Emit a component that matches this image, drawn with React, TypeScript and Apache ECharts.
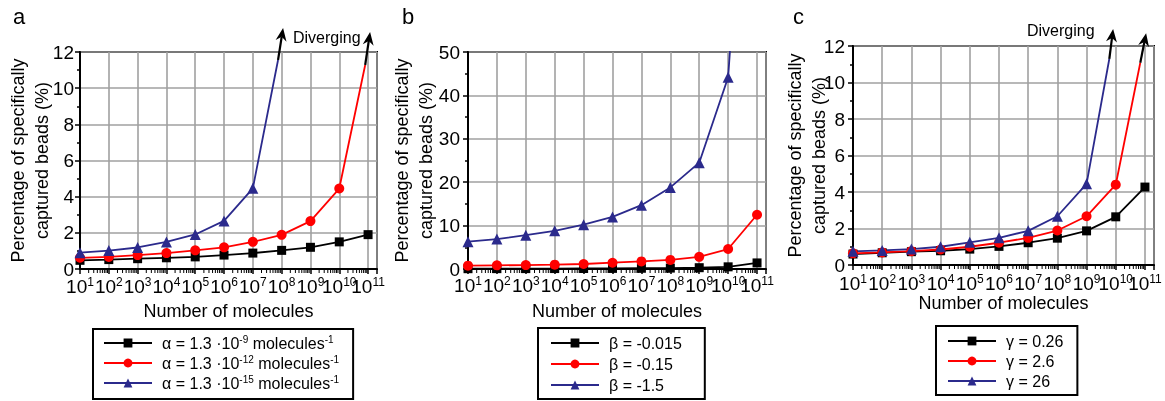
import React, { useEffect, useRef } from 'react';
import * as echarts from 'echarts';

const FONT = '"Liberation Sans", Arial, Helvetica, sans-serif';
const BLACK = '#000000';
const RED = '#ff0000';
const BLUE = '#2b2a8c';
const GRID_COLOR = '#a0a0a0';

// x = log10(number of molecules)
const EXP = [1, 2, 3, 4, 5, 6, 7, 8, 9, 10, 11];

// Panel a (alpha)
const A_BLACK = [0.48, 0.52, 0.57, 0.62, 0.67, 0.77, 0.88, 1.03, 1.2, 1.5, 1.9];
const A_RED = [0.62, 0.67, 0.77, 0.88, 1.03, 1.2, 1.5, 1.89, 2.65, 4.45];
const A_BLUE = [0.9, 1.02, 1.19, 1.5, 1.91, 2.66, 4.46];
const A_RED_TAIL = [10.9, 11.28];
const A_BLUE_TAIL = [7.875, 11.56];
const A_ARROWS = [
  [7.875, 11.56, 8.05, 13.33],
  [10.9, 11.28, 11.07, 13.1],
];

// Panel b (beta)
const B_BLACK = [0.07, 0.08, 0.09, 0.1, 0.12, 0.14, 0.17, 0.21, 0.3, 0.5, 1.4];
const B_RED = [0.76, 0.85, 0.9, 1.0, 1.15, 1.45, 1.75, 2.1, 2.8, 4.6, 12.5];
const B_BLUE = [6.3, 6.9, 7.8, 8.8, 10.2, 12.0, 14.7, 18.8, 24.5, 44.2, 140];

// Panel c (gamma)
const C_BLACK = [0.6, 0.67, 0.73, 0.78, 0.87, 1.02, 1.22, 1.47, 1.87, 2.64, 4.27];
const C_RED = [0.64, 0.69, 0.76, 0.85, 1.0, 1.22, 1.49, 1.89, 2.67, 4.4];
const C_BLUE = [0.75, 0.8, 0.87, 1.0, 1.24, 1.49, 1.87, 2.67, 4.45];
const C_RED_TAIL = [10.84, 11.08];
const C_BLUE_TAIL = [9.78, 11.3];
const C_ARROWS = [
  [9.78, 11.3, 9.91, 12.93],
  [10.84, 11.08, 11.04, 12.7],
];

const A_NAMES = ['α = 1.3 ·10-9 molecules-1', 'α = 1.3 ·10-12 molecules-1', 'α = 1.3 ·10-15 molecules-1'];
const A_LABELS = [
  'α = 1.3 ·10{s|-9} molecules{s|-1}',
  'α = 1.3 ·10{s|-12} molecules{s|-1}',
  'α = 1.3 ·10{s|-15} molecules{s|-1}',
];
const B_NAMES = ['β = -0.015', 'β = -0.15', 'β = -1.5'];
const C_NAMES = ['γ = 0.26', 'γ = 2.6', 'γ = 26'];

const Y_TITLE = 'Percentage of specifically\ncaptured beads (%)';
const X_TITLE = 'Number of molecules';
const X_MAX = 11.31;

const MINOR_X: number[] = [];
for (let n = 1; n <= 10; n++) {
  for (let k = 2; k <= 9; k++) MINOR_X.push(n + Math.log10(k));
}

function pairs(vals: number[], tail?: number[]) {
  const d: any[] = vals.map((v, i) => [EXP[i], v]);
  if (tail) d.push({ value: tail, symbol: 'none' });
  return d;
}

function xAxis(gridIndex: number, labelMargin: number, nameGap: number) {
  return {
    type: 'value',
    gridIndex,
    min: 1,
    max: X_MAX,
    interval: 1,
    name: X_TITLE,
    nameLocation: 'middle',
    nameGap,
    nameMoveOverlap: false,
    nameTextStyle: { fontSize: 18, fontFamily: FONT, color: '#000' },
    axisLine: { show: true, onZero: false, lineStyle: { color: '#000', width: 2 } },
    axisTick: { show: true, length: 5, lineStyle: { color: '#000', width: 1.5 } },
    axisLabel: {
      margin: labelMargin,
      showMinLabel: true,
      formatter: (v: number) => (Number.isInteger(v) ? `{b|10}{s|${v}}` : ''),
      rich: {
        b: { fontSize: 19, fontFamily: FONT, color: '#000', lineHeight: 20 },
        s: { fontSize: 12, fontFamily: FONT, color: '#000', verticalAlign: 'top', lineHeight: 12 },
      },
    },
    splitLine: { show: true, lineStyle: { color: GRID_COLOR, width: 1.6 } },
  };
}

function yAxis(gridIndex: number, max: number, interval: number, labelMargin: number, nameGap: number) {
  return {
    type: 'value',
    gridIndex,
    min: 0,
    max,
    interval,
    name: Y_TITLE,
    nameLocation: 'middle',
    nameGap,
    nameMoveOverlap: false,
    nameTextStyle: { fontSize: 18, lineHeight: 24, fontFamily: FONT, color: '#000', align: 'center' },
    axisLine: { show: true, onZero: false, lineStyle: { color: '#000', width: 2 } },
    axisTick: { show: true, length: 5, lineStyle: { color: '#000', width: 1.5 } },
    minorTick: { show: true, splitNumber: 2, length: 3, lineStyle: { color: '#000', width: 1.5 } },
    axisLabel: { fontSize: 19, fontFamily: FONT, color: '#000', margin: labelMargin },
    splitLine: { show: true, lineStyle: { color: GRID_COLOR, width: 1.6 } },
  };
}

function lineSeries(name: string, idx: number, data: any[], color: string, symbol: string, size: number) {
  return {
    type: 'line',
    name,
    xAxisIndex: idx,
    yAxisIndex: idx,
    data,
    symbol,
    symbolSize: size,
    clip: true,
    lineStyle: { color, width: 1.8 },
    itemStyle: { color },
    z: 3,
  };
}

function arrowSeries(idx: number, data: number[][]) {
  return {
    type: 'custom',
    xAxisIndex: idx,
    yAxisIndex: idx,
    data,
    encode: { x: [0, 2], y: [1, 3] },
    z: 5,
    silent: true,
    renderItem: (_p: any, api: any) => {
      const p1 = api.coord([api.value(0), api.value(1)]);
      const p2 = api.coord([api.value(2), api.value(3)]);
      const dx = p2[0] - p1[0];
      const dy = p2[1] - p1[1];
      const len = Math.hypot(dx, dy) || 1;
      const ux = dx / len;
      const uy = dy / len;
      const nx = -uy;
      const ny = ux;
      const H = 13;
      const W = 5.5;
      const N = 4;
      const base = [p2[0] - ux * H, p2[1] - uy * H];
      const notch = [p2[0] - ux * (H - N), p2[1] - uy * (H - N)];
      return {
        type: 'group',
        children: [
          {
            type: 'line',
            shape: { x1: p1[0], y1: p1[1], x2: notch[0], y2: notch[1] },
            style: { stroke: '#000', lineWidth: 2.2 },
          },
          {
            type: 'polygon',
            shape: {
              points: [
                [p2[0], p2[1]],
                [base[0] + nx * W, base[1] + ny * W],
                notch,
                [base[0] - nx * W, base[1] - ny * W],
              ],
            },
            style: { fill: '#000' },
          },
        ],
      };
    },
  };
}

function minorTickSeries(idx: number) {
  return {
    type: 'custom',
    xAxisIndex: idx,
    yAxisIndex: idx,
    data: MINOR_X.map((v) => [v, 0]),
    encode: { x: 0, y: 1 },
    silent: true,
    z: 4,
    renderItem: (_p: any, api: any) => {
      const p = api.coord([api.value(0), 0]);
      return {
        type: 'line',
        shape: { x1: p[0], y1: p[1] + 1, x2: p[0], y2: p[1] + 4 },
        style: { stroke: '#000', lineWidth: 1 },
      };
    },
  };
}

function legend(names: string[], labels: string[] | null, left: number, top: number, padding: number[], gap: number) {
  const map: Record<string, string> = {};
  names.forEach((n, i) => (map[n] = labels ? labels[i] : n));
  return {
    show: true,
    orient: 'vertical',
    left,
    top,
    data: names,
    padding,
    itemGap: gap,
    itemWidth: 48,
    itemHeight: 11,
    borderColor: '#000',
    borderWidth: 2,
    backgroundColor: '#fff',
    selectedMode: false,
    formatter: (n: string) => map[n],
    textStyle: {
      fontSize: 16,
      fontFamily: FONT,
      color: '#000',
      lineHeight: 18,
      padding: [0, 0, 0, 5],
      rich: {
        s: { fontSize: 10, fontFamily: FONT, color: '#000', verticalAlign: 'top', lineHeight: 12 },
      },
    },
  };
}

function buildOption() {
  return {
    animation: false,
    textStyle: { fontFamily: FONT },
    grid: [
      { left: 80, top: 52, width: 297, height: 217, show: true, borderColor: '#000', borderWidth: 2, backgroundColor: 'transparent' },
      { left: 468, top: 52, width: 298, height: 217, show: true, borderColor: '#000', borderWidth: 2, backgroundColor: 'transparent' },
      { left: 853, top: 46, width: 301, height: 219, show: true, borderColor: '#000', borderWidth: 2, backgroundColor: 'transparent' },
    ],
    xAxis: [xAxis(0, 7, 33), xAxis(1, 6, 33), xAxis(2, 8, 29)],
    yAxis: [yAxis(0, 12, 2, 6, 26), yAxis(1, 50, 10, 8, 30), yAxis(2, 12, 2, 8, 22)],
    legend: [
      legend(A_NAMES, A_LABELS, 93, 329, [5, 14, 7, 10], 2),
      legend(B_NAMES, null, 538, 328, [6, 23, 5, 12], 3),
      legend(C_NAMES, null, 936, 326, [6, 14, 5, 11], 2),
    ],
    graphic: [
      { type: 'text', left: 13, top: 5, style: { text: 'a', fontSize: 22, fontFamily: FONT, fill: '#000' } },
      { type: 'text', left: 402, top: 5, style: { text: 'b', fontSize: 22, fontFamily: FONT, fill: '#000' } },
      { type: 'text', left: 793, top: 5, style: { text: 'c', fontSize: 22, fontFamily: FONT, fill: '#000' } },
      { type: 'text', left: 293, top: 29, style: { text: 'Diverging', fontSize: 16, fontFamily: FONT, fill: '#000' } },
      { type: 'text', left: 1027, top: 22, style: { text: 'Diverging', fontSize: 16, fontFamily: FONT, fill: '#000' } },
    ],
    series: [
      lineSeries(A_NAMES[0], 0, pairs(A_BLACK), BLACK, 'rect', 9),
      lineSeries(A_NAMES[1], 0, pairs(A_RED, A_RED_TAIL), RED, 'circle', 10),
      lineSeries(A_NAMES[2], 0, pairs(A_BLUE, A_BLUE_TAIL), BLUE, 'triangle', 11),
      arrowSeries(0, A_ARROWS),
      minorTickSeries(0),
      lineSeries(B_NAMES[0], 1, pairs(B_BLACK), BLACK, 'rect', 9),
      lineSeries(B_NAMES[1], 1, pairs(B_RED), RED, 'circle', 10),
      lineSeries(B_NAMES[2], 1, pairs(B_BLUE), BLUE, 'triangle', 11),
      minorTickSeries(1),
      lineSeries(C_NAMES[0], 2, pairs(C_BLACK), BLACK, 'rect', 9),
      lineSeries(C_NAMES[1], 2, pairs(C_RED, C_RED_TAIL), RED, 'circle', 10),
      lineSeries(C_NAMES[2], 2, pairs(C_BLUE, C_BLUE_TAIL), BLUE, 'triangle', 11),
      arrowSeries(2, C_ARROWS),
      minorTickSeries(2),
    ],
  };
}

export default function App() {
  const ref = useRef<HTMLDivElement>(null);
  useEffect(() => {
    if (!ref.current) return;
    const chart = echarts.init(ref.current, null, { renderer: 'svg' });
    chart.setOption(buildOption() as any);
    return () => chart.dispose();
  }, []);
  return <div ref={ref} style={{ position: 'fixed', left: 0, top: 0, width: 1165, height: 401 }} />;
}
